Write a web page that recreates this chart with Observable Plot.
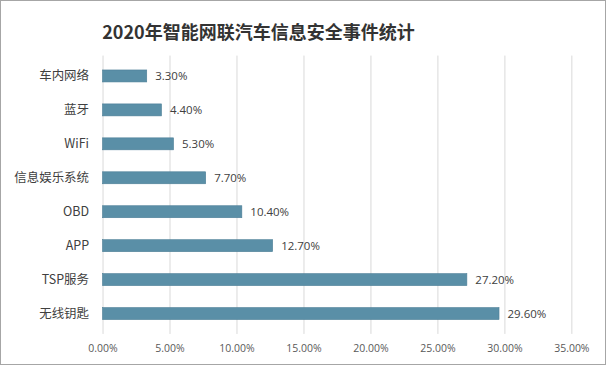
<!DOCTYPE html>
<html>
<head>
<meta charset="utf-8">
<script src="https://cdn.jsdelivr.net/npm/d3@7"></script>
<script src="https://cdn.jsdelivr.net/npm/@observablehq/plot@0.6"></script>
<style>
  html, body { margin: 0; padding: 0; background: #fff; }
  #frame { position: relative; width: 606px; height: 365px; box-sizing: border-box; border: 1px solid #a6a6a6; overflow: hidden; background: #fff; }
  #title { position: absolute; left: 0; top: 18px; width: 515px; text-align: center; font-family: "Noto Sans CJK SC", sans-serif; font-weight: bold; font-size: 18px; line-height: 24px; color: #333; }
  #chart { position: absolute; left: -1px; top: 47px; }
</style>
</head>
<body>
<div id="frame">
  <div id="title">2020年智能网联汽车信息安全事件统计</div>
  <div id="chart"></div>
</div>
<script>
const categories = ["车内网络", "蓝牙", "WiFi", "信息娱乐系统", "OBD", "APP", "TSP服务", "无线钥匙"];
const values = [3.3, 4.4, 5.3, 7.7, 10.4, 12.7, 27.2, 29.6];
const xTicks = [0, 5, 10, 15, 20, 25, 30, 35];

const data = categories.map((c, i) => ({category: c, value: values[i]}));
const fmt = v => v.toFixed(2) + "%";

const chart = Plot.plot({
  width: 606,
  height: 318,
  marginTop: 7.6,
  marginBottom: 31.6,
  marginLeft: 102.7,
  marginRight: 33.7,
  style: {background: "transparent"},
  x: {domain: [0, 35], ticks: xTicks, label: null},
  y: {domain: categories, paddingInner: 0.655, paddingOuter: 0.3275, label: null},
  marks: [
    Plot.gridX(xTicks, {stroke: "#d9d9d9", strokeOpacity: 1, strokeWidth: 1}),
    Plot.barX(data, {x: "value", y: "category", fill: "#5a8fa7", stroke: "#4d7f97", strokeWidth: 0.6}),
    Plot.text(data, {x: "value", y: "category", text: d => fmt(d.value), textAnchor: "start", dx: 8, fill: "#404040", fontSize: 11.5, fontFamily: "'Open Sans', 'Liberation Sans', sans-serif"}),
    Plot.axisX({ticks: xTicks, tickSize: 0, tickPadding: 10, tickFormat: fmt, fill: "#595959", fontSize: 10.5, fontFamily: "'Open Sans', 'Liberation Sans', sans-serif", label: null}),
    Plot.axisY({tickSize: 0, tickPadding: 14, fill: "#404040", fontSize: 12.5, fontFamily: "'Noto Sans CJK SC', sans-serif", label: null})
  ]
});
document.getElementById("chart").appendChild(chart);
</script>
</body>
</html>
